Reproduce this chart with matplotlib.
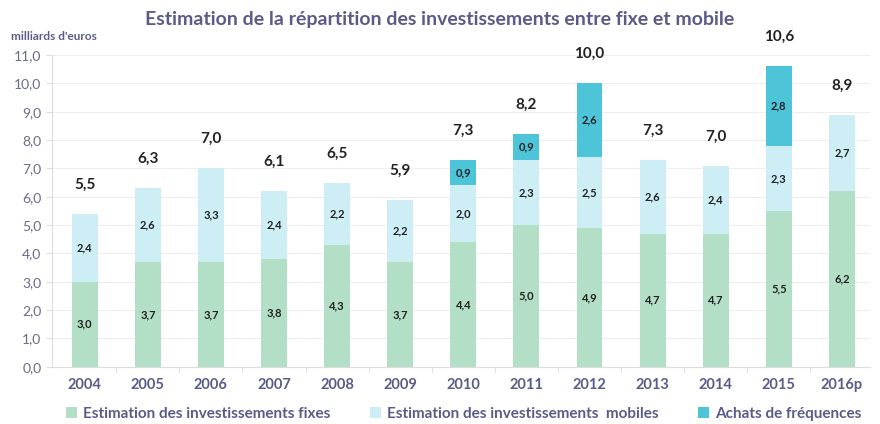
import matplotlib.pyplot as plt
import numpy as np

# donnees
annees = ['2004', '2005', '2006', '2007', '2008', '2009', '2010', '2011', '2012', '2013', '2014', '2015', '2016p']
fixe = [3.0, 3.7, 3.7, 3.8, 4.3, 3.7, 4.4, 5.0, 4.9, 4.7, 4.7, 5.5, 6.2]
mobile = [2.4, 2.6, 3.3, 2.4, 2.2, 2.2, 2.0, 2.3, 2.5, 2.6, 2.4, 2.3, 2.7]
frequences = [0, 0, 0, 0, 0, 0, 0.9, 0.9, 2.6, 0, 0, 2.8, 0]
totaux = [5.5, 6.3, 7.0, 6.1, 6.5, 5.9, 7.3, 8.2, 10.0, 7.3, 7.0, 10.6, 8.9]

c_fixe = '#b3dfc7'
c_mobile = '#cdeef5'
c_freq = '#4ec4d8'
c_texte = '#5b5b88'

plt.rcParams['font.family'] = ['Lato', 'DejaVu Sans']

fig = plt.figure(figsize=(8.8, 4.24), dpi=100)
ax = fig.add_axes([0.059, 0.135, 0.93, 0.735])

x = np.arange(len(annees))
w = 0.41
bas_mobile = np.array(fixe)
bas_freq = bas_mobile + np.array(mobile)

ax.bar(x, fixe, w, color=c_fixe, label='Estimation des investissements fixes', zorder=2)
ax.bar(x, mobile, w, bottom=bas_mobile, color=c_mobile, label='Estimation des investissements  mobiles', zorder=2)
ax.bar(x, frequences, w, bottom=bas_freq, color=c_freq, label='Achats de fréquences', zorder=2)

def fmt(v):
    return f'{v:.1f}'.replace('.', ',')

# etiquettes dans les segments
for i in range(len(annees)):
    ax.text(x[i], fixe[i] / 2, fmt(fixe[i]), ha='center', va='center', fontsize=8, fontweight='bold', color='#222222', zorder=3)
    ax.text(x[i], bas_mobile[i] + mobile[i] / 2, fmt(mobile[i]), ha='center', va='center', fontsize=8, fontweight='bold', color='#222222', zorder=3)
    if frequences[i] > 0:
        ax.text(x[i], bas_freq[i] + frequences[i] / 2, fmt(frequences[i]), ha='center', va='center', fontsize=8, fontweight='bold', color='#222222', zorder=3)
    haut = bas_freq[i] + frequences[i]
    ax.annotate(fmt(totaux[i]), (x[i], haut), xytext=(0, 16), textcoords='offset points',
                ha='center', va='bottom', fontsize=11, fontweight='bold', color='#222222')

ax.set_xlim(-0.52, 12.45)
ax.set_ylim(0, 11)
ax.set_yticks(np.arange(0, 12, 1))
ax.set_yticklabels([fmt(v) for v in np.arange(0, 12, 1)], fontsize=10, color='#6a6a8a')
ax.set_xticks(x)
ax.set_xticklabels(annees, fontsize=10.5, fontweight='bold', color=c_texte)
ax.tick_params(axis='x', length=0, pad=8)
ax.tick_params(axis='y', length=4, color='#dddddd')
ax.set_xticks(x[:-1] + 0.5, minor=True)
ax.tick_params(axis='x', which='minor', length=4, color='#dddddd')

ax.grid(axis='y', color='#eeeeee', linewidth=0.8, zorder=0)
for s in ['top', 'right']:
    ax.spines[s].set_visible(False)
ax.spines['left'].set_color('#dddddd')
ax.spines['bottom'].set_color('#dddddd')

fig.text(0.5, 0.955, 'Estimation de la répartition des investissements entre fixe et mobile',
         ha='center', va='center', fontsize=14, fontweight='bold', color=c_texte)
fig.text(0.012, 0.915, "milliards d'euros", ha='left', va='center', fontsize=8.5, fontweight='bold', color=c_texte)

leg = fig.legend(loc='lower center', bbox_to_anchor=(0.527, -0.025), ncol=3, frameon=False,
                 fontsize=11, handlelength=0.7, handleheight=0.7, columnspacing=2.6, handletextpad=0.4)
for t in leg.get_texts():
    t.set_color(c_texte)
    t.set_fontweight('bold')

fig.savefig('out.png', dpi=100)
